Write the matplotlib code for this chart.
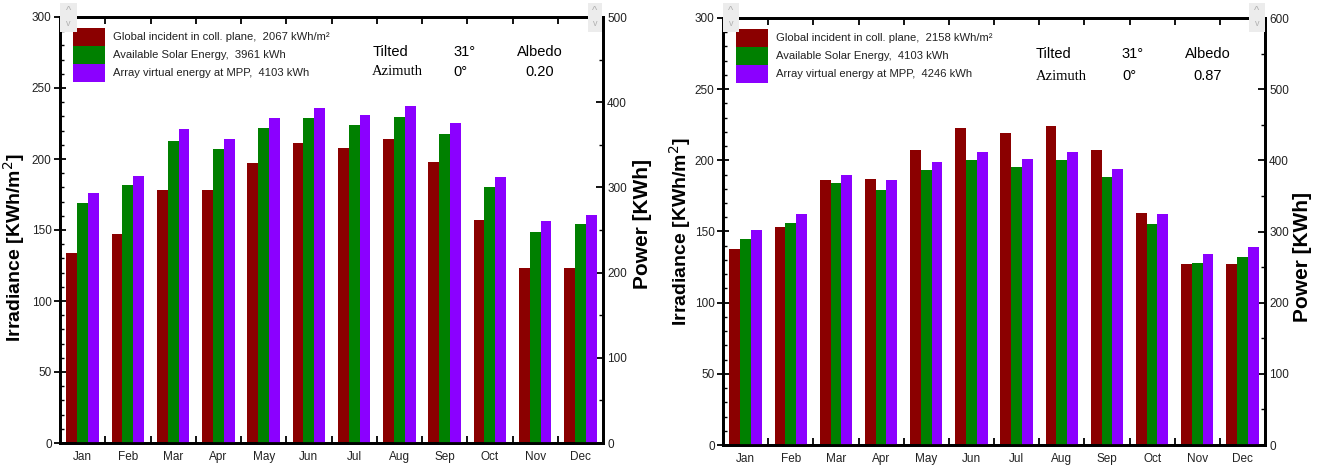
import numpy as np
import matplotlib
matplotlib.use("Agg")
import matplotlib.pyplot as plt
from matplotlib.patches import Rectangle
from matplotlib.ticker import MultipleLocator, FixedLocator

plt.rcParams["font.family"] = ["Liberation Sans", "DejaVu Sans"]

months = ["Jan", "Feb", "Mar", "Apr", "May", "Jun", "Jul", "Aug", "Sep", "Oct", "Nov", "Dec"]

# panel 1: albedo 0.20
irr_a = [134, 147, 178, 178, 197, 211, 208, 214, 198, 157, 123, 123]
avail_a = [282, 303, 355, 345, 370, 382, 373, 383, 363, 300, 248, 257]
mpp_a = [293, 313, 368, 357, 382, 393, 385, 395, 375, 312, 260, 268]
labels_a = ["Global incident in coll. plane,  2067 kWh/m\u00b2",
            "Available Solar Energy,  3961 kWh",
            "Array virtual energy at MPP,  4103 kWh"]

# panel 2: albedo 0.87
irr_b = [138, 153, 186, 187, 207, 223, 219, 224, 207, 163, 127, 127]
avail_b = [290, 312, 368, 358, 386, 400, 390, 400, 376, 310, 256, 264]
mpp_b = [302, 324, 380, 372, 398, 412, 402, 412, 388, 324, 268, 278]
labels_b = ["Global incident in coll. plane,  2158 kWh/m\u00b2",
            "Available Solar Energy,  4103 kWh",
            "Array virtual energy at MPP,  4246 kWh"]

RED, GREEN, PURPLE = "#8b0000", "#008000", "#8b00ff"
TICKC = "#222222"
W, H = 1325, 465


def scroll_box(x0, x1):
    # little grey up/down buttons sitting on the axis corners
    fig.add_artist(Rectangle((x0 / W, 1 - 32 / H), (x1 - x0) / W, 29 / H,
                             transform=fig.transFigure, facecolor="#ececec",
                             edgecolor="none", zorder=5))
    xc = (x0 + x1) / 2 / W
    fig.text(xc, 1 - 11 / H, "^", fontsize=8, color="#b0b0b0", ha="center", va="center", zorder=6)
    fig.text(xc, 1 - 23 / H, "v", fontsize=6.5, color="#b0b0b0", ha="center", va="center", zorder=6)


def panel(px, irr, avail, mpp, labels, pmax, albedo, txt, lab):
    x0, x1, top, bot = px
    ax = fig.add_axes([x0 / W, 1 - bot / H, (x1 - x0) / W, (bot - top) / H])
    ax2 = ax.twinx()
    x = np.arange(len(months))
    w = 0.238
    ax.bar(x - w, irr, w, color=RED, zorder=2)
    ax2.bar(x, avail, w, color=GREEN, zorder=2)
    ax2.bar(x + w, mpp, w, color=PURPLE, zorder=2)
    ax.set_xlim(-0.5, 11.5)
    ax.set_ylim(0, 300)
    ax2.set_ylim(0, pmax)
    ax.set_xticks(x)
    ax.set_xticklabels(months)
    ax.xaxis.set_minor_locator(FixedLocator(np.arange(0.5, 11.5, 1)))
    ax.tick_params(axis="x", which="major", length=0, pad=6, labelsize=8.5, labelcolor=TICKC)
    ax.tick_params(axis="x", which="minor", direction="in", length=5, width=1.3,
                   top=True, bottom=True)
    ax.yaxis.set_major_locator(MultipleLocator(50))
    ax.yaxis.set_minor_locator(MultipleLocator(10))
    ax.tick_params(axis="y", which="major", direction="inout", length=8, width=1.3,
                   labelsize=8.5, labelcolor=TICKC, pad=2)
    ax.tick_params(axis="y", which="minor", direction="in", length=3, width=1.0)
    ax2.yaxis.set_major_locator(MultipleLocator(100))
    ax2.yaxis.set_minor_locator(MultipleLocator(50))
    ax2.tick_params(axis="y", which="major", direction="in", length=5, width=1.3,
                    labelsize=8.5, labelcolor=TICKC, pad=3)
    ax2.tick_params(axis="y", which="minor", direction="in", length=3, width=1.0)
    for a in (ax, ax2):
        for s in a.spines.values():
            s.set_linewidth(2)
    ax.set_ylabel("Irradiance [KWh/m$^2$]", fontsize=lab[0], fontweight="bold")
    ax.yaxis.set_label_coords(lab[1], lab[2])
    ax2.set_ylabel("Power [KWh]", fontsize=lab[3], fontweight="bold")
    ax2.yaxis.set_label_coords(lab[4], lab[5])

    # legend: stacked colour blocks with labels
    aw, ah = x1 - x0, bot - top
    lx = 13 / aw
    for i, (c, t) in enumerate(zip((RED, GREEN, PURPLE), labels)):
        ytop = 1 - (11 + 18 * i) / ah
        ax2.add_patch(Rectangle((lx, ytop - 18 / ah), 32 / aw, 18 / ah, transform=ax2.transAxes,
                                facecolor=c, edgecolor="none", zorder=4, clip_on=False))
        ax2.text(lx + 40 / aw, ytop - 9 / ah, t, transform=ax2.transAxes, fontsize=8.1,
                 color=TICKC, va="center", zorder=4)

    ta = dict(transform=ax.transAxes, fontsize=10.5, va="center")
    ax.text(txt[0], txt[3], "Tilted", **ta)
    ax.text(txt[1], txt[3], "31\u00b0", **ta)
    ax.text(txt[2], txt[3], "Albedo", **ta)
    ax.text(txt[0], txt[4], "Azimuth", family="Liberation Serif", **ta)
    ax.text(txt[1], txt[4], "0\u00b0", **ta)
    ax.text(txt[2] + 0.015, txt[4], albedo, **ta)
    return ax


fig = plt.figure(figsize=(W / 100, H / 100), dpi=100)
panel((60, 603, 17, 443), irr_a, avail_a, mpp_a, labels_a, 500, "0.20",
      (0.575, 0.724, 0.842, 0.918, 0.872), (14, -0.061, 0.46, 15, 1.055, 0.514))
panel((723, 1265, 18, 445), irr_b, avail_b, mpp_b, labels_b, 600, "0.87",
      (0.577, 0.736, 0.852, 0.915, 0.864), (14, -0.056, 0.5, 15, 1.052, 0.44))
scroll_box(60, 77)
scroll_box(588, 602)
scroll_box(723, 739)
scroll_box(1249, 1265)
fig.savefig("out.png", dpi=100)
